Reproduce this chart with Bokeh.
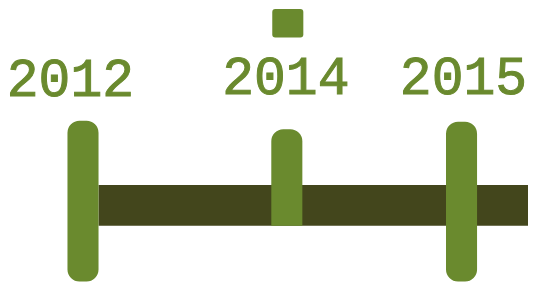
from bokeh.plotting import figure
from bokeh.models import Range1d, ColumnDataSource
from bokeh.core.properties import value
from bokeh.embed import file_html
from bokeh.resources import INLINE

# Timeline data (positions on the timeline scale, heights in chart units)
years = ["2012", "2014", "2015"]
timeline_pos = [85, 295, 475]
label_pos = [72, 294, 477]
label_base = [216, 218, 218]
pillar_top = [171, 162, 170]
pillar_bottom = [1, 60, 1]
track_start, track_end = 101, 560
track_low, track_high = 60, 103
marker_low, marker_high = 259, 289

GREEN = "#6a8a2e"
DARK = "#43461c"

p = figure(width=528, height=282, x_range=Range1d(0, 544), y_range=Range1d(0, 298),
           output_backend="svg", toolbar_location=None, min_border=0)
p.axis.visible = False
p.grid.visible = False
p.outline_line_color = None
p.background_fill_color = "white"
p.border_fill_color = "white"

# track
p.quad(left=[track_start], right=[track_end], bottom=[track_low], top=[track_high],
       fill_color=DARK, line_color=None)

# full pillars (2012, 2015)
full = ColumnDataSource(dict(x=[timeline_pos[0], timeline_pos[2]],
                             top=[pillar_top[0], pillar_top[2]],
                             bottom=[pillar_bottom[0], pillar_bottom[2]]))
p.vbar(x="x", width=32, top="top", bottom="bottom", source=full,
       fill_color=GREEN, line_color=None, border_radius=12)

# half pillar (2014)
half = ColumnDataSource(dict(x=[timeline_pos[1]], top=[pillar_top[1]], bottom=[pillar_bottom[1]]))
p.vbar(x="x", width=32, top="top", bottom="bottom", source=half,
       fill_color=GREEN, line_color=None, border_radius=(12, 12, 0, 0))

# marker square above 2014
p.vbar(x=[timeline_pos[1] + 1], width=32, top=[marker_high], bottom=[marker_low],
       fill_color=GREEN, line_color=None, border_radius=3)

# labels
lab = ColumnDataSource(dict(x=label_pos, y=label_base, t=years))
p.text(x="x", y="y", text="t", source=lab, text_align="center", text_baseline="alphabetic",
       text_font=value("Liberation Mono"), text_font_size="53px", text_font_style="normal",
       text_color=GREEN, text_outline_color=GREEN)

open("out.html", "w").write(file_html(p, INLINE))
